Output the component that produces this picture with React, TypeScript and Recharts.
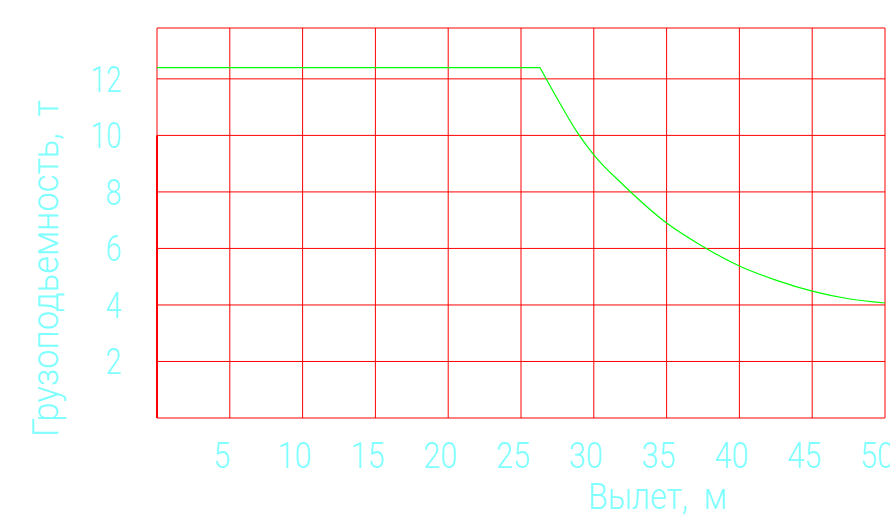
import { LineChart, Line, XAxis, YAxis, CartesianGrid, ReferenceLine, Label } from 'recharts';

// вылет, м
const reachTicks = [0, 5, 10, 15, 20, 25, 30, 35, 40, 45, 50];
// грузоподъемность, т (top value is just the frame edge)
const loadTicks = [0, 2, 4, 6, 8, 10, 12, 13.8];

const reach = [0, 26.3, 27.6, 28.9, 30, 32.1, 35, 37.2, 40, 42.5, 45, 47.5, 50];
const flatLoad = [12.4, 12.4, null, null, null, null, null, null, null, null, null, null, null];
const curveLoad = [null, 12.4, 11.2, 10.08, 9.31, 8.21, 6.9, 6.16, 5.38, 4.88, 4.49, 4.22, 4.07];

const data = reach.map((r, i) => ({ reach: r, flat: flatLoad[i], curve: curveLoad[i] }));

const TEXT = '#80ffff';
const GRID = '#ff0000';
const LINE = '#00ff00';
const FONT = 'Roboto, sans-serif';

function ReachTick(props: any) {
  const { x, y, payload } = props;
  const v = payload.value;
  if (v === 0) return null;
  const s = String(v);
  return (
    <text
      x={x - 8}
      y={y + 50}
      textAnchor="middle"
      textLength={s.length > 1 ? 34 : 17}
      lengthAdjust="spacingAndGlyphs"
      fill={TEXT}
      fontSize={37.5}
      fontFamily={FONT}
      fontWeight={300}
    >
      {s}
    </text>
  );
}

function LoadTick(props: any) {
  const { x, y, payload } = props;
  const v = payload.value;
  if (v === 0 || v > 12) return null;
  const s = String(v);
  return (
    <text
      x={x - 35.5}
      y={y + 13}
      textAnchor="end"
      textLength={s.length > 1 ? 31 : 16}
      lengthAdjust="spacingAndGlyphs"
      fill={TEXT}
      fontSize={37.5}
      fontFamily={FONT}
      fontWeight={300}
    >
      {s}
    </text>
  );
}

export default function App() {
  return (
    <div style={{ position: 'absolute', left: 0, top: 0, width: 890, height: 517, background: '#fff' }}>
      <LineChart width={890} height={517} data={data} margin={{ top: 28, right: 5, left: 0, bottom: 0 }}>
        <CartesianGrid stroke={GRID} strokeWidth={1} />
        <XAxis
          dataKey="reach"
          type="number"
          domain={[0, 50]}
          ticks={reachTicks}
          height={99}
          axisLine={false}
          tickLine={false}
          tickSize={0}
          tickMargin={0}
          tick={<ReachTick />}
          interval={0}
        >
          <Label
            content={() => (
              <text
                x={657.5}
                y={509}
                textAnchor="middle"
                textLength={139}
                lengthAdjust="spacingAndGlyphs"
                fill={TEXT}
                fontSize={37.5}
                fontFamily={FONT}
                fontWeight={300}
              >
                {'Вылет,\u00a0\u00a0м'}
              </text>
            )}
          />
        </XAxis>
        <YAxis
          type="number"
          domain={[0, 13.8]}
          ticks={loadTicks}
          width={157}
          axisLine={false}
          tickLine={false}
          tickSize={0}
          tickMargin={0}
          tick={<LoadTick />}
          interval={0}
        >
          <Label
            content={() => (
              <text
                x={58}
                y={268.5}
                transform="rotate(-90, 58, 268.5)"
                textAnchor="middle"
                textLength={337}
                lengthAdjust="spacingAndGlyphs"
                fill={TEXT}
                fontSize={37.5}
                fontFamily={FONT}
                fontWeight={300}
              >
                {'Грузоподьемность,\u00a0\u00a0т'}
              </text>
            )}
          />
        </YAxis>
        <ReferenceLine
          segment={[{ x: 0, y: 0 }, { x: 0, y: 10 }]}
          stroke={GRID}
          strokeWidth={2}
        />
        <Line
          dataKey="flat"
          type="linear"
          stroke={LINE}
          strokeWidth={1.2}
          dot={false}
          isAnimationActive={false}
          connectNulls={false}
        />
        <Line
          dataKey="curve"
          type="monotone"
          stroke={LINE}
          strokeWidth={1.2}
          dot={false}
          isAnimationActive={false}
          connectNulls={false}
        />
      </LineChart>
    </div>
  );
}
